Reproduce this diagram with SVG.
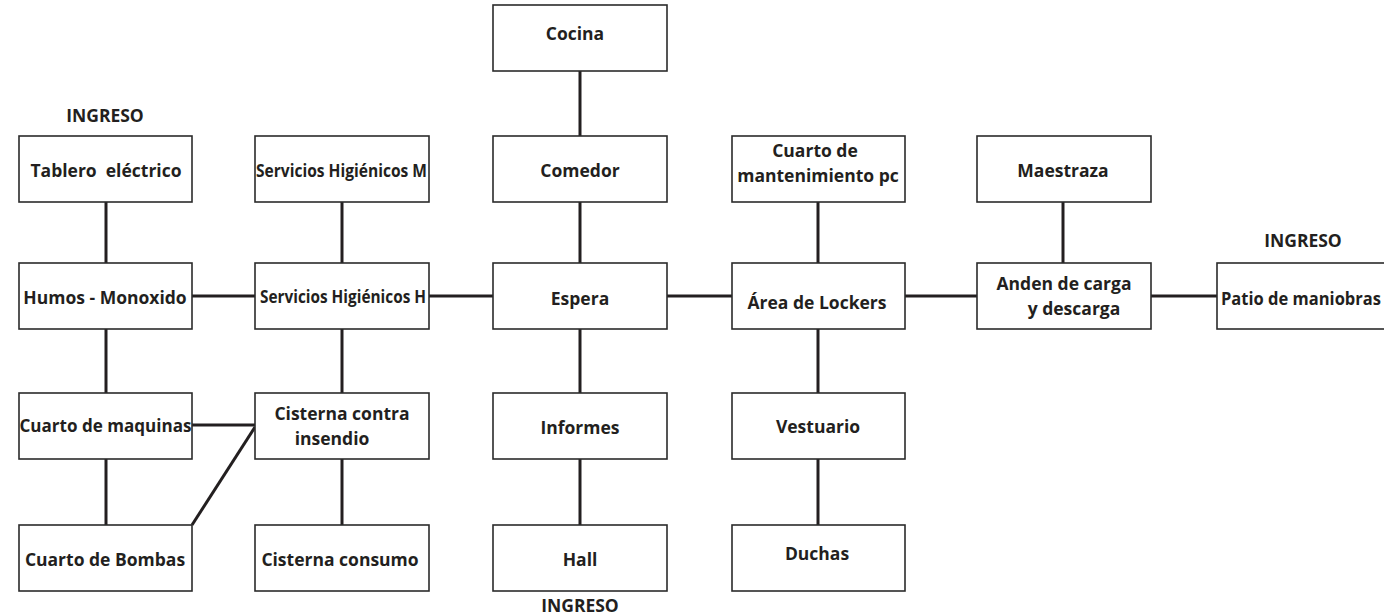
<svg xmlns="http://www.w3.org/2000/svg" width="1384" height="616" viewBox="0 0 1384 616">
<style>
.box{fill:#fff;stroke:#2b2b2b;stroke-width:1.6}
.t{font-family:"Open Sans","Liberation Sans",sans-serif;font-weight:700;font-size:17.5px;fill:#231f20;text-anchor:middle;dominant-baseline:central}
.l{text-anchor:start}
.c{stroke:#231f20;stroke-width:3;fill:none}
</style>
<rect width="1384" height="616" fill="#fff"/>
<g id="connectors">
<line class="c" x1="580" y1="71" x2="580" y2="136"/>
<line class="c" x1="580" y1="202" x2="580" y2="263"/>
<line class="c" x1="580" y1="329" x2="580" y2="393"/>
<line class="c" x1="580" y1="459" x2="580" y2="525"/>
<line class="c" x1="106" y1="202" x2="106" y2="263"/>
<line class="c" x1="106" y1="329" x2="106" y2="393"/>
<line class="c" x1="106" y1="459" x2="106" y2="525"/>
<line class="c" x1="342" y1="202" x2="342" y2="263"/>
<line class="c" x1="342" y1="329" x2="342" y2="393"/>
<line class="c" x1="342" y1="459" x2="342" y2="525"/>
<line class="c" x1="818" y1="202" x2="818" y2="263"/>
<line class="c" x1="818" y1="329" x2="818" y2="393"/>
<line class="c" x1="818" y1="459" x2="818" y2="525"/>
<line class="c" x1="1063" y1="202" x2="1063" y2="263"/>
<line class="c" x1="192" y1="296" x2="255" y2="296"/>
<line class="c" x1="429" y1="296" x2="495" y2="296"/>
<line class="c" x1="667" y1="296" x2="732" y2="296"/>
<line class="c" x1="905" y1="296" x2="977" y2="296"/>
<line class="c" x1="1151" y1="296" x2="1217" y2="296"/>
<line class="c" x1="192" y1="425" x2="255" y2="425"/>
<line class="c" x1="255" y1="427" x2="192" y2="525"/>
</g>
<g id="ingreso-top-left"><text class="t" x="105" y="115">INGRESO</text></g>
<g id="ingreso-bottom"><text class="t" x="580" y="605">INGRESO</text></g>
<g id="ingreso-right"><text class="t" x="1303" y="240">INGRESO</text></g>
<g id="tablero"><rect class="box" x="19" y="136" width="173" height="66"/><text class="t" x="106" y="170" xml:space="preserve">Tablero  eléctrico</text></g>
<g id="humos"><rect class="box" x="19" y="263" width="173" height="66"/><text class="t" x="105" y="297">Humos - Monoxido</text></g>
<g id="maquinas"><rect class="box" x="19" y="393" width="173" height="66"/><text class="t" x="105.5" y="425" textLength="172" lengthAdjust="spacingAndGlyphs">Cuarto de maquinas</text></g>
<g id="bombas"><rect class="box" x="19" y="525" width="173" height="66"/><text class="t" x="105" y="559">Cuarto de Bombas</text></g>
<g id="sshh-m"><rect class="box" x="255" y="136" width="174" height="66"/><text class="t" x="341.5" y="170" textLength="171" lengthAdjust="spacingAndGlyphs">Servicios Higiénicos M</text></g>
<g id="sshh-h"><rect class="box" x="255" y="263" width="174" height="66"/><text class="t" x="343" y="296" textLength="166" lengthAdjust="spacingAndGlyphs">Servicios Higiénicos H</text></g>
<g id="cisterna-contra"><rect class="box" x="255" y="393" width="174" height="66"/><text class="t" x="342" y="413">Cisterna contra</text><text class="t" x="332" y="438">insendio</text></g>
<g id="cisterna-consumo"><rect class="box" x="255" y="525" width="174" height="66"/><text class="t" x="340" y="559">Cisterna consumo</text></g>
<g id="cocina"><rect class="box" x="493" y="5" width="174" height="66"/><text class="t" x="575" y="33">Cocina</text></g>
<g id="comedor"><rect class="box" x="493" y="136" width="174" height="66"/><text class="t" x="580" y="170">Comedor</text></g>
<g id="espera"><rect class="box" x="493" y="263" width="174" height="66"/><text class="t" x="580" y="298">Espera</text></g>
<g id="informes"><rect class="box" x="493" y="393" width="174" height="66"/><text class="t" x="580" y="427">Informes</text></g>
<g id="hall"><rect class="box" x="493" y="525" width="174" height="66"/><text class="t" x="580" y="559">Hall</text></g>
<g id="mantenimiento"><rect class="box" x="732" y="136" width="173" height="66"/><text class="t" x="815" y="150">Cuarto de</text><text class="t" x="818" y="175">mantenimiento pc</text></g>
<g id="lockers"><rect class="box" x="732" y="263" width="173" height="66"/><text class="t" x="817" y="302">Área de Lockers</text></g>
<g id="vestuario"><rect class="box" x="732" y="393" width="173" height="66"/><text class="t" x="818" y="426">Vestuario</text></g>
<g id="duchas"><rect class="box" x="732" y="525" width="173" height="66"/><text class="t" x="817" y="553">Duchas</text></g>
<g id="maestraza"><rect class="box" x="977" y="136" width="174" height="66"/><text class="t" x="1063" y="170">Maestraza</text></g>
<g id="anden"><rect class="box" x="977" y="263" width="174" height="66"/><text class="t" x="1064" y="283">Anden de carga</text><text class="t" x="1074" y="308">y descarga</text></g>
<g id="patio"><rect class="box" x="1217" y="263" width="174" height="66"/><text class="t l" x="1221" y="298" textLength="160" lengthAdjust="spacingAndGlyphs">Patio de maniobras</text></g>
</svg>
